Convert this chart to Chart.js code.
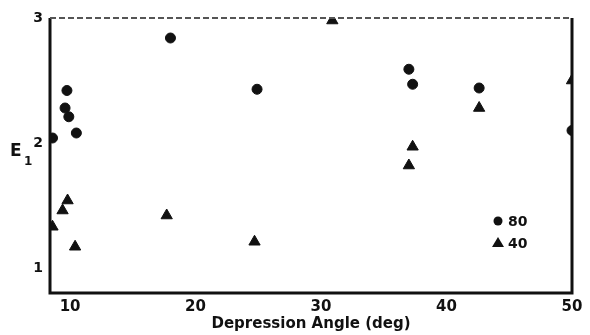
<!DOCTYPE html>
<html>
<head>
<meta charset="utf-8">
<script src="https://cdn.jsdelivr.net/npm/chart.js@4"></script>
<style>
  html, body { margin: 0; padding: 0; background: #fff; }
  #wrap { width: 590px; height: 335px; }
</style>
</head>
<body>
<div id="wrap"><canvas id="myChart"></canvas></div>
<script>
// series "80" (circles) and "40" (triangles): depression angle vs E1
const angle80 = [8.6, 9.75, 9.6, 9.9, 10.5, 18.0, 24.9, 37.0, 37.3, 42.6, 50.0];
const e80     = [2.04, 2.42, 2.28, 2.21, 2.08, 2.84, 2.43, 2.59, 2.47, 2.44, 2.10];
const angle40 = [8.6, 9.4, 9.8, 10.4, 17.7, 24.7, 30.9, 37.0, 37.3, 42.6, 50.0];
const e40     = [1.33, 1.46, 1.54, 1.17, 1.42, 1.21, 2.98, 1.82, 1.97, 2.28, 2.50];
const xTicks = [10, 20, 30, 40, 50];
const yTicks = [1, 2, 3];
const seriesNames = ['80', '40'];

const FONT = 'bold 14px "DejaVu Sans", sans-serif';

const toPts = (xs, ys) => xs.map((x, i) => ({x: x, y: ys[i]}));

// frame, y label, legend
const extras = {
  id: 'extras',
  afterDraw(chart) {
    const c = chart.ctx, a = chart.chartArea;
    c.save();
    c.strokeStyle = '#111';
    c.lineWidth = 3;
    c.beginPath();
    c.moveTo(a.left, a.top); c.lineTo(a.left, a.bottom); c.lineTo(a.right, a.bottom); c.lineTo(a.right, a.top);
    c.stroke();
    c.lineWidth = 2;
    c.setLineDash([6, 3]);
    c.strokeStyle = '#555';
    c.beginPath(); c.moveTo(a.left, a.top); c.lineTo(a.right, a.top); c.stroke();
    c.setLineDash([]);

    // E1 label
    c.fillStyle = '#111';
    c.font = 'bold 17px "DejaVu Sans", sans-serif';
    c.textBaseline = 'middle';
    c.fillText('E', 10, 152);
    c.font = 'bold 12px "DejaVu Sans", sans-serif';
    c.fillText('1', 24, 162);

    // legend
    const ds = chart.data.datasets;
    const rows = [221, 243];
    ds.forEach((d, i) => {
      const y = rows[i];
      c.fillStyle = '#111';
      c.beginPath();
      if (d.pointStyle === 'triangle') {
        c.moveTo(498, y - 6); c.lineTo(504, y + 4); c.lineTo(492, y + 4); c.closePath();
      } else {
        c.arc(498, y, 4.5, 0, Math.PI * 2);
      }
      c.fill();
      c.font = FONT;
      c.textAlign = 'left';
      c.fillText(d.label, 508, y + 1);
    });
    c.restore();
  }
};

new Chart(document.getElementById('myChart'), {
  type: 'scatter',
  data: {
    datasets: [
      { label: seriesNames[0], data: toPts(angle80, e80), pointStyle: 'circle', pointRadius: 5,
        backgroundColor: '#111', borderColor: '#111' },
      { label: seriesNames[1], data: toPts(angle40, e40), pointStyle: 'triangle', pointRadius: 6.5,
        backgroundColor: '#111', borderColor: '#111' }
    ]
  },
  options: {
    responsive: true,
    maintainAspectRatio: false,
    animation: false,
    layout: { padding: { top: 18, right: 18, left: 0, bottom: 0 } },
    plugins: { legend: { display: false }, tooltip: { enabled: false } },
    scales: {
      x: {
        type: 'linear', min: 8.4, max: 50,
        afterBuildTicks: s => { s.ticks = xTicks.map(v => ({value: v})); },
        afterFit: s => { s.height = 42; },
        grid: { display: false, drawTicks: false },
        border: { display: false },
        ticks: { color: '#111', font: { size: 15, weight: 'bold', family: '"DejaVu Sans", sans-serif' }, padding: 5 },
        title: { display: true, text: 'Depression Angle (deg)', color: '#111', padding: { top: 0, bottom: 2 },
                 font: { size: 15, weight: 'bold', family: '"DejaVu Sans", sans-serif' } }
      },
      y: {
        type: 'linear', min: 0.8, max: 3,
        afterBuildTicks: s => { s.ticks = yTicks.map(v => ({value: v})); },
        afterFit: s => { s.width = 50; },
        grid: { display: false, drawTicks: false },
        border: { display: false },
        ticks: { color: '#111', font: { size: 14, weight: 'bold', family: '"DejaVu Sans", sans-serif' }, padding: 7 }
      }
    }
  },
  plugins: [extras]
});
</script>
</body>
</html>
